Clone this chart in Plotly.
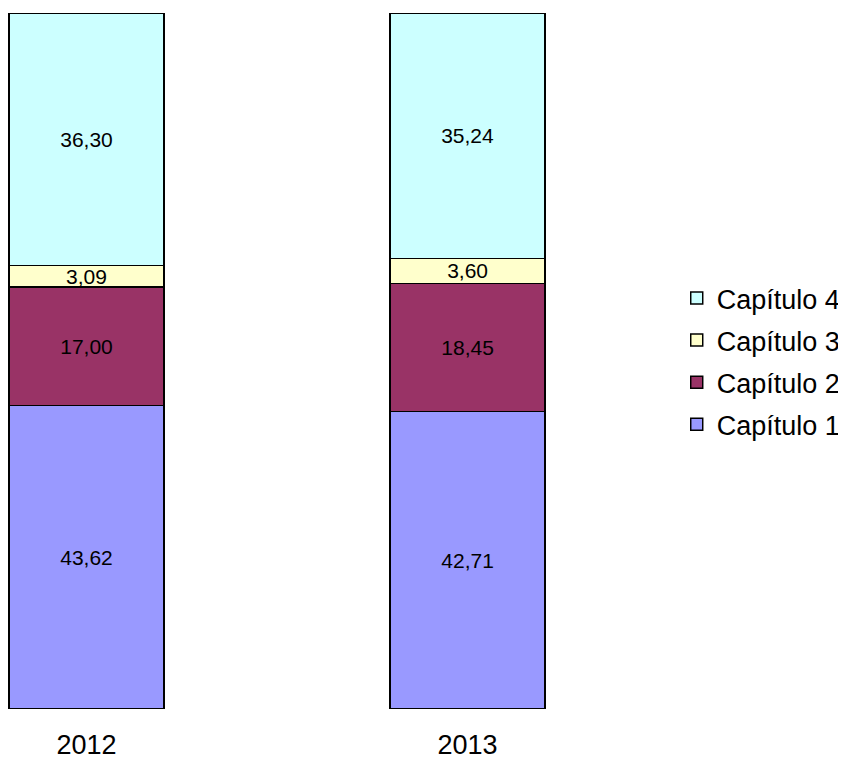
import plotly.graph_objects as go

years = ['2012', '2013']
capitulo_1 = [43.62, 42.71]
capitulo_2 = [17.00, 18.45]
capitulo_3 = [3.09, 3.60]
capitulo_4 = [36.30, 35.24]

series = [
    ('Capítulo 1', capitulo_1, '#9999FF'),
    ('Capítulo 2', capitulo_2, '#993366'),
    ('Capítulo 3', capitulo_3, '#FFFFCC'),
    ('Capítulo 4', capitulo_4, '#CCFFFF'),
]

fig = go.Figure()
for idx, (name, vals, color) in enumerate(series):
    fig.add_trace(go.Bar(
        x=years,
        y=vals,
        name=name,
        legendgroup=name,  # one group per trace so tracegroupgap spaces the items
        legendrank=1000 - idx,  # top of stack listed first
        width=0.407,
        marker=dict(color=color, line=dict(color='black', width=1.5)),
        texttemplate='%{y:.2f}',
        textposition='inside',
        insidetextanchor='middle',
        textangle=0,
        textfont=dict(color='black', size=21),
    ))

# page body has an 8px margin, so the figure is sized to the visible area
fig.update_layout(
    barmode='stack',
    separators=',.',
    width=838,
    height=752,
    margin=dict(l=0, r=218, t=5, b=51),
    paper_bgcolor='white',
    plot_bgcolor='white',
    font=dict(family='Liberation Sans, Arial, sans-serif', color='black', size=27),
    uniformtext=dict(mode='show', minsize=21),
    showlegend=True,
    legend=dict(
        traceorder='grouped',
        tracegroupgap=4,
        xref='container', yref='container',
        x=0.798, y=0.530, xanchor='left', yanchor='middle',
        font=dict(size=27),
    ),
)
fig.update_xaxes(
    range=[-0.206, 1.421],
    automargin=False,
    showline=False, showgrid=False, zeroline=False,
    ticks='outside', ticklen=12, tickcolor='rgba(0,0,0,0)',
)
fig.update_yaxes(
    range=[0, 100],
    visible=False,
)

fig.write_html("out.html")
